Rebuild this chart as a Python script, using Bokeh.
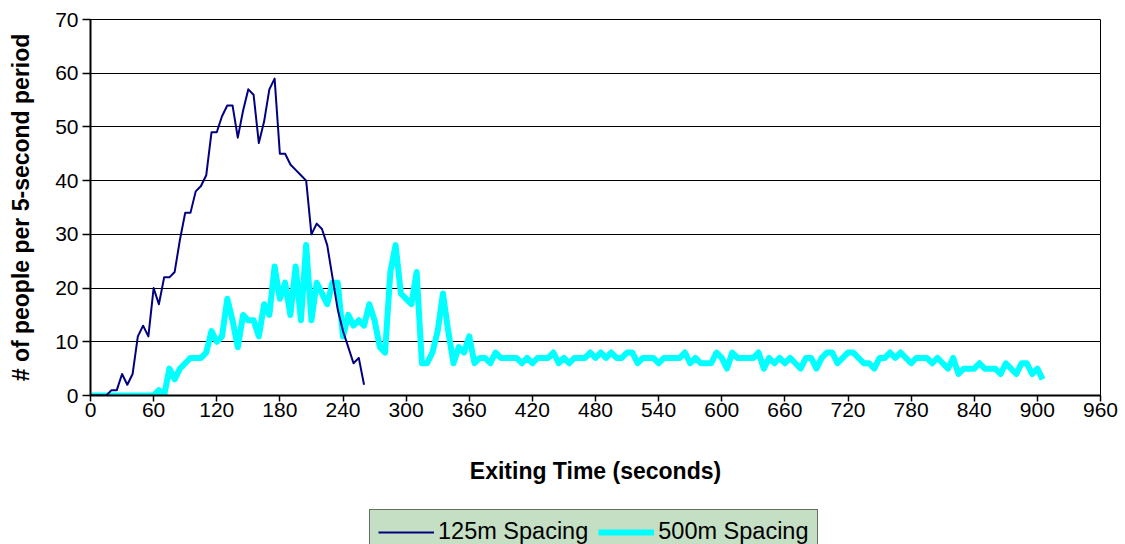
from bokeh.plotting import figure
from bokeh.layouts import column
from bokeh.models import (ColumnDataSource, Range1d, FixedTicker, Legend, LegendItem)
from bokeh.embed import file_html
from bokeh.resources import INLINE

# ---------------- data ----------------
step = 5
spacing125 = [0, 0, 0, 0, 1, 1, 4, 2, 4, 11, 13, 11, 20, 17, 22, 22, 23, 29, 34, 34,
              38, 39, 41, 49, 49, 52, 54, 54, 48, 53, 57, 56, 47, 51, 57, 59, 45, 45,
              43, 42, 41, 40, 30, 32, 31, 28, 22, 16, 12, 9, 6, 7, 2]
spacing500 = [0, 0, 0, 0, 0, 0, 0, 0, 0, 0, 0, 0,
              0, 1, 0, 5, 3, 5, 6, 7, 7, 7, 8, 12, 10, 11, 18, 14, 9, 15,
              14, 14, 11, 17, 15, 24, 18, 21, 15, 24, 14, 28, 14, 21, 19, 17,
              21, 21, 11, 15, 13, 14, 13, 17, 14, 9, 8, 23, 28, 19, 18, 17, 23,
              6, 6, 8, 12, 19, 12, 6, 9, 8, 11, 6, 7, 7, 6, 8, 7, 7, 7, 7, 6, 7,
              6, 7, 7, 7, 8, 6, 7, 6, 7, 7, 7, 8, 7, 8, 7, 8, 7, 7, 8, 8, 6, 7,
              7, 7, 6, 7, 7, 7, 7, 8, 6, 7, 6, 6, 6, 8, 7, 5, 8, 7, 7, 7, 7, 8,
              5, 7, 6, 7, 6, 7, 6, 5, 7, 7, 5, 7, 8, 8, 6, 7, 8, 8, 7, 6, 6, 5,
              7, 7, 8, 7, 8, 7, 6, 7, 7, 7, 6, 7, 6, 5, 7, 4, 5, 5, 5, 6, 5, 5,
              5, 4, 6, 5, 4, 6, 6, 4, 5, 3]
time125 = [i * step for i in range(len(spacing125))]
time500 = [i * step for i in range(len(spacing500))]
x_ticks = list(range(0, 961, 60))
y_ticks = list(range(0, 71, 10))
series_names = ["125m Spacing", "500m Spacing"]
series_colors = ["#000080", "#00FFFF"]
series_widths = [2, 6]

FONT = "Liberation Sans"

# ---------------- main chart ----------------
p = figure(width=1120, height=500, output_backend="svg", toolbar_location=None,
           x_range=Range1d(0, 960), y_range=Range1d(0, 70),
           min_border_left=90, min_border_right=20, min_border_top=19,
           min_border_bottom=105)
p.background_fill_color = "white"
p.border_fill_color = "white"
p.outline_line_color = "black"
p.outline_line_width = 1

src1 = ColumnDataSource(dict(t=time125, v=spacing125))
src2 = ColumnDataSource(dict(t=time500, v=spacing500))
p.line("t", "v", source=src2, line_color=series_colors[1],
       line_width=series_widths[1], line_join="round")
p.line("t", "v", source=src1, line_color=series_colors[0],
       line_width=series_widths[0], line_join="round")

p.xaxis.ticker = FixedTicker(ticks=x_ticks)
p.yaxis.ticker = FixedTicker(ticks=y_ticks)
for ax in (p.xaxis[0], p.yaxis[0]):
    ax.axis_line_color = "black"
    ax.axis_line_width = 2
    ax.major_tick_line_color = "black"
    ax.major_tick_line_width = 1.5
    ax.minor_tick_line_color = None
    ax.major_tick_in = 0
    ax.major_label_text_font = FONT
    ax.major_label_text_font_size = "21px"
    ax.major_label_text_color = "black"
    ax.axis_label_text_font = FONT
    ax.axis_label_text_font_size = "23px"
    ax.axis_label_text_font_style = "bold"
    ax.axis_label_text_color = "black"
p.xaxis.major_tick_out = 6
p.yaxis.major_tick_out = 8
p.xaxis.major_label_standoff = 1
p.yaxis.major_label_standoff = 4
p.xaxis.axis_label = "Exiting Time (seconds)"
p.yaxis.axis_label = "# of people per 5-second period"
p.xaxis.axis_label_standoff = 38
p.yaxis.axis_label_standoff = 18

p.xgrid.grid_line_color = None
p.ygrid.grid_line_color = "black"
p.ygrid.grid_line_width = 1.2

# ---------------- legend strip ----------------
# the legend samples reuse the series sources; the view range keeps them off-screen
q = figure(width=1120, height=44, output_backend="svg", toolbar_location=None,
           x_range=Range1d(0, 1), y_range=Range1d(-200, -100),
           x_axis_location=None, y_axis_location=None, min_border=0)
q.grid.visible = False
q.outline_line_color = None
q.background_fill_color = "white"
q.border_fill_color = "white"
d1 = q.line("t", "v", source=src1, line_color=series_colors[0],
            line_width=series_widths[0])
d2 = q.line("t", "v", source=src2, line_color=series_colors[1],
            line_width=series_widths[1])

legend = Legend(items=[LegendItem(label=series_names[0], renderers=[d1]),
                       LegendItem(label=series_names[1], renderers=[d2])],
                orientation="horizontal", location=(279, -10))
legend.label_text_font = FONT
legend.label_text_font_size = "23.5px"
legend.label_text_color = "black"
legend.background_fill_color = "#C4DFC4"
legend.background_fill_alpha = 1
legend.border_line_color = "black"
legend.border_line_width = 1.5
legend.glyph_width = 56
legend.glyph_height = 20
legend.label_standoff = 4
legend.spacing = 10
legend.padding = 8
legend.margin = 0
q.add_layout(legend, "center")

layout = column(p, q, spacing=0)
open("out.html", "w").write(file_html(layout, INLINE))
